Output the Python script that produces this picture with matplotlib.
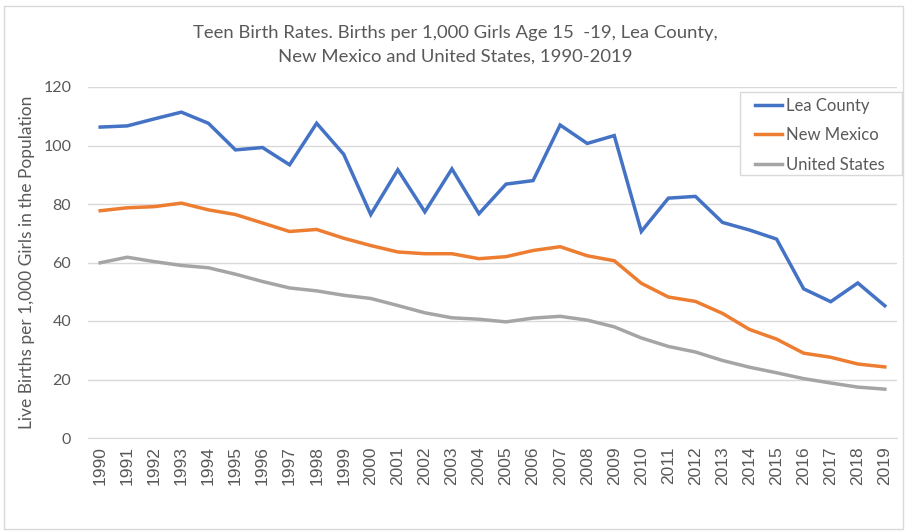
"""
Teen birth rates chart: Lea County, New Mexico and United States, 1990-2019.
"""
import matplotlib
matplotlib.use('Agg')
import matplotlib.pyplot as plt

years = list(range(1990, 2020))

lea_county = [106.3, 106.7, 109.1, 111.4, 107.6, 98.5, 99.3, 93.4, 107.6, 97.0,
              76.4, 91.7, 77.3, 92.0, 76.7, 86.8, 88.0, 107.0, 100.7, 103.4,
              70.6, 82.0, 82.6, 73.7, 71.1, 68.0, 51.0, 46.6, 53.0, 45.2]

new_mexico = [77.7, 78.7, 79.1, 80.3, 78.0, 76.4, 73.5, 70.6, 71.3, 68.3,
              65.8, 63.6, 63.0, 63.0, 61.3, 62.0, 64.1, 65.4, 62.3, 60.6,
              52.9, 48.2, 46.7, 42.6, 37.1, 33.8, 29.0, 27.6, 25.3, 24.3]

united_states = [59.9, 61.8, 60.3, 59.0, 58.2, 56.0, 53.5, 51.3, 50.3, 48.8,
                 47.7, 45.3, 42.8, 41.1, 40.6, 39.7, 41.0, 41.6, 40.3, 38.0,
                 34.2, 31.3, 29.4, 26.5, 24.2, 22.3, 20.3, 18.8, 17.4, 16.7]

series = [
    ('Lea County', lea_county, '#4472C4'),
    ('New Mexico', new_mexico, '#ED7D31'),
    ('United States', united_states, '#A5A5A5'),
]

plt.rcParams['font.family'] = ['Lato', 'DejaVu Sans']
text_color = '#595959'
W, H = 907, 531

fig = plt.figure(figsize=(W / 100, H / 100), dpi=100)
ax = fig.add_axes([88 / W, 1 - 438 / H, (897 - 88) / W, (438 - 87) / H])

for name, values, color in series:
    ax.plot(years, values, color=color, linewidth=2.5, label=name,
            solid_joinstyle='miter')

ax.set_ylim(0, 120)
ax.set_yticks(range(0, 121, 20))
ax.set_xlim(1989.55, 2019.45)
ax.set_xticks(years)
ax.set_xticklabels([str(y) for y in years], rotation=90,
                   fontfamily='Liberation Sans', fontsize=12.5)

ax.grid(axis='y', color='#D9D9D9', linewidth=1)
ax.set_axisbelow(True)
for side in ['top', 'right', 'left']:
    ax.spines[side].set_visible(False)
ax.spines['bottom'].set_color('#D9D9D9')
ax.tick_params(axis='both', length=0, colors=text_color)
ax.tick_params(axis='y', pad=12, labelsize=11.5)
ax.tick_params(axis='x', pad=6)

ax.set_ylabel('Live Births per 1,000 Girls in the Population', color=text_color,
              fontsize=12.5, labelpad=6)

fig.text(0.502, 1 - 33 / H, 'Teen Birth Rates. Births per 1,000 Girls Age 15  -19, Lea County,',
         ha='center', va='center', fontsize=13.3, color=text_color)
fig.text(0.502, 1 - 57 / H, 'New Mexico and United States, 1990-2019',
         ha='center', va='center', fontsize=13.3, color=text_color)

# legend entries without frame, box drawn separately like Excel's
leg = fig.legend(loc='upper left', bbox_to_anchor=(755 / W, 1 - 98 / H), fontsize=12,
                 frameon=False, handlelength=1.6, handletextpad=0.25,
                 labelspacing=0.8, borderpad=0, borderaxespad=0)
for t in leg.get_texts():
    t.set_color(text_color)
fig.patches.append(plt.Rectangle((740 / W, 1 - 175 / H), 162 / W, 83 / H,
                                 transform=fig.transFigure, facecolor='white',
                                 edgecolor='#D9D9D9', linewidth=1, zorder=4))
leg.set_zorder(5)

fig.patches.append(plt.Rectangle((0.004, 0.004), 0.992, 0.985, transform=fig.transFigure,
                                 fill=False, edgecolor='#D9D9D9', linewidth=1))

fig.savefig('out.png', dpi=100)
plt.close(fig)
